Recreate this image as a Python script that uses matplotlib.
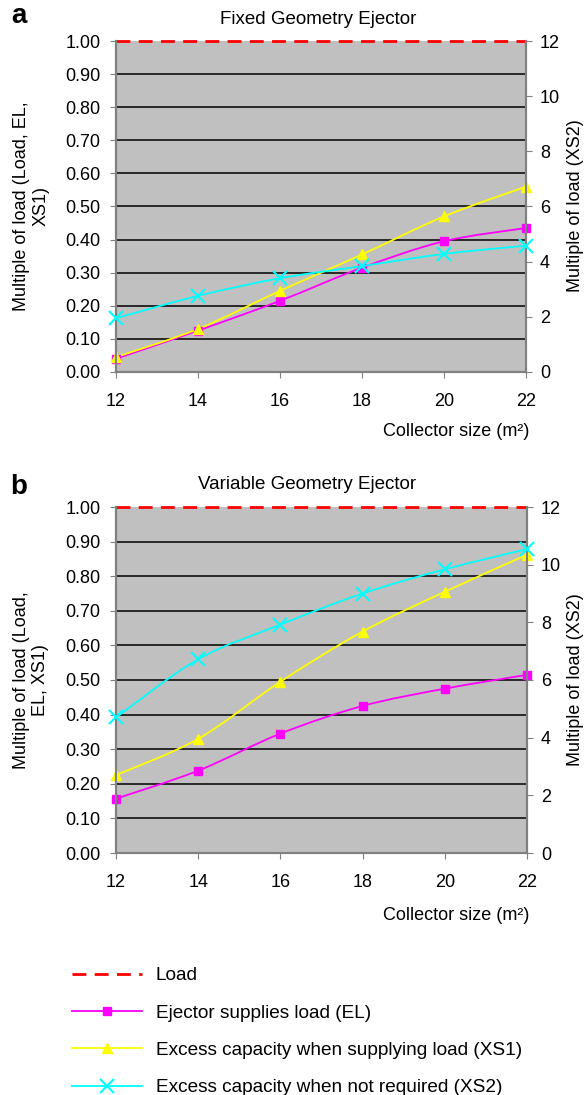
import matplotlib
matplotlib.use("Agg")
import matplotlib.pyplot as plt
import numpy as np
from matplotlib.path import Path
from matplotlib.patches import PathPatch
from matplotlib.lines import Line2D

plt.rcParams['font.family'] = ['Liberation Sans', 'DejaVu Sans']

# collector sizes (m2)
sizes = [12, 14, 16, 18, 20, 22]

# panel a - fixed geometry ejector
fixed_el = [0.04, 0.125, 0.215, 0.315, 0.395, 0.435]
fixed_xs1 = [0.045, 0.13, 0.245, 0.355, 0.47, 0.56]
fixed_xs2 = [1.95, 2.76, 3.4, 3.84, 4.28, 4.58]

# panel b - variable geometry ejector
var_el = [0.157, 0.238, 0.345, 0.425, 0.475, 0.515]
var_xs1 = [0.225, 0.33, 0.495, 0.64, 0.755, 0.862]
var_xs2 = [4.7, 6.72, 7.92, 9.0, 9.84, 10.54]

load = [1.0] * len(sizes)

left_ticks = np.arange(0, 1.01, 0.1)
right_ticks = np.arange(0, 13, 2)

labels = ['Load', 'Ejector supplies load (EL)',
          'Excess capacity when supplying load (XS1)',
          'Excess capacity when not required (XS2)']

c_el = '#FF00FF'
c_xs1 = '#FFFF00'
c_xs2 = '#00FFFF'
c_grey = '#808080'


def smooth_path(xs, ys):
    # excel style smoothed line, cubic bezier through every point
    pts = np.column_stack([xs, ys]).astype(float)
    verts = [pts[0]]
    codes = [Path.MOVETO]
    n = len(pts)
    for i in range(n - 1):
        p0 = pts[max(i - 1, 0)]
        p1 = pts[i]
        p2 = pts[i + 1]
        p3 = pts[min(i + 2, n - 1)]
        verts += [p1 + (p2 - p0) / 6, p2 - (p3 - p1) / 6, p2]
        codes += [Path.CURVE4] * 3
    return Path(verts, codes)


def draw_panel(ax, el, xs1, xs2):
    ax.set_facecolor('#C0C0C0')
    for v in left_ticks[1:-1]:
        ax.axhline(v, color='black', lw=1.1, zorder=1)
    ax.plot(sizes, load, color='red', ls=(0, (5, 3)), lw=2, zorder=6, clip_on=False)

    ax.add_patch(PathPatch(smooth_path(sizes, el), fill=False, edgecolor=c_el, lw=1.3, zorder=3))
    ax.plot(sizes, el, ls='none', marker='s', ms=6, color=c_el, zorder=4, clip_on=False)
    ax.add_patch(PathPatch(smooth_path(sizes, xs1), fill=False, edgecolor=c_xs1, lw=1.3, zorder=3))
    ax.plot(sizes, xs1, ls='none', marker='^', ms=7, color=c_xs1, zorder=4, clip_on=False)

    ax.set_xlim(12, 22)
    ax.set_ylim(0, 1)
    ax.set_xticks(sizes)
    ax.set_yticks(left_ticks)
    ax.set_yticklabels(['%.2f' % v for v in left_ticks])
    ax.tick_params(axis='y', length=4, color=c_grey, pad=7, labelsize=13)
    ax.tick_params(axis='x', length=4, color=c_grey, pad=11, labelsize=13)
    for s in ['left', 'bottom', 'right']:
        ax.spines[s].set_color(c_grey)
        ax.spines[s].set_linewidth(1.5)
    ax.spines['top'].set_visible(False)

    ax2 = ax.twinx()
    ax2.add_patch(PathPatch(smooth_path(sizes, xs2), fill=False, edgecolor=c_xs2, lw=1.3, zorder=3))
    ax2.plot(sizes, xs2, ls='none', marker='x', ms=10, mew=1.5, color=c_xs2, zorder=4, clip_on=False)
    ax2.set_ylim(0, 12)
    ax2.set_yticks(right_ticks)
    ax2.tick_params(axis='y', length=4, color=c_grey, pad=6, labelsize=13)
    for s in ['left', 'bottom', 'right']:
        ax2.spines[s].set_color(c_grey)
        ax2.spines[s].set_linewidth(1.5)
    ax2.spines['top'].set_visible(False)
    return ax2


fig = plt.figure(figsize=(5.84, 10.95), dpi=100)
W, H = 584.0, 1095.0

ax_a = fig.add_axes([116 / W, 1 - 372 / H, 410 / W, 331 / H])
draw_panel(ax_a, fixed_el, fixed_xs1, fixed_xs2)
ax_b = fig.add_axes([116 / W, 1 - 853 / H, 411 / W, 346 / H])
draw_panel(ax_b, var_el, var_xs1, var_xs2)

# panel letters and titles
fig.text(19 / W, 1 - 16 / H, 'a', fontsize=20, fontweight='bold', ha='center', va='center')
fig.text(19 / W, 1 - 487 / H, 'b', fontsize=20, fontweight='bold', ha='center', va='center')
fig.text(318 / W, 1 - 19 / H, 'Fixed Geometry Ejector', fontsize=13.5, ha='center', va='center')
fig.text(307 / W, 1 - 485 / H, 'Variable Geometry Ejector', fontsize=13.5, ha='center', va='center')

# axis labels
fig.text(31 / W, 1 - 206 / H, 'Multiple of load (Load, EL,\nXS1)', rotation=90,
         fontsize=13, ha='center', va='center', multialignment='center')
fig.text(31 / W, 1 - 680 / H, 'Multiple of load (Load,\nEL, XS1)', rotation=90,
         fontsize=13, ha='center', va='center', multialignment='center')
fig.text(575 / W, 1 - 206 / H, 'Multiple of load (XS2)', rotation=90,
         fontsize=13, ha='center', va='center')
fig.text(575 / W, 1 - 680 / H, 'Multiple of load (XS2)', rotation=90,
         fontsize=13, ha='center', va='center')
fig.text(529 / W, 1 - 431 / H, 'Collector size (m²)', fontsize=13, ha='right', va='center')
fig.text(529 / W, 1 - 916 / H, 'Collector size (m²)', fontsize=13, ha='right', va='center')

# legend
handles = [
    Line2D([], [], color='red', ls=(0, (5, 3)), lw=2),
    Line2D([], [], color=c_el, lw=1.3, marker='s', ms=6),
    Line2D([], [], color=c_xs1, lw=1.3, marker='^', ms=7),
    Line2D([], [], color=c_xs2, lw=1.3, marker='x', ms=10, mew=1.5),
]
fig.legend(handles, labels, loc='upper left', bbox_to_anchor=(72 / W, 1 - 967 / H),
           frameon=False, fontsize=13.7, handlelength=3.7, handletextpad=0.7,
           labelspacing=1.05, borderpad=0, borderaxespad=0, numpoints=1)

fig.savefig('out.png', dpi=100)
